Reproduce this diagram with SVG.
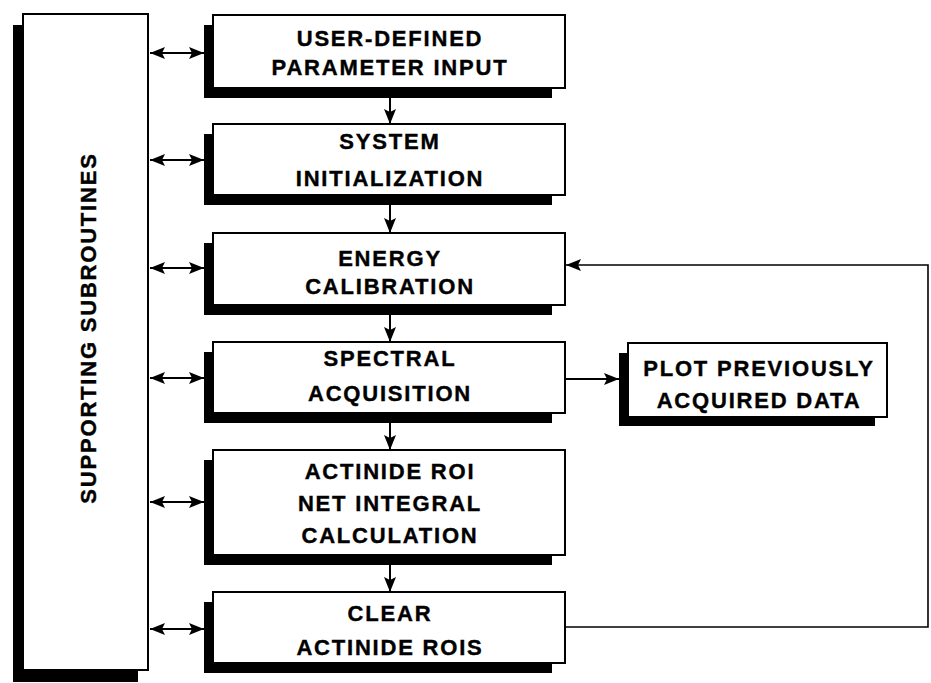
<svg xmlns="http://www.w3.org/2000/svg" width="931" height="683" viewBox="0 0 931 683">
<style>
.box{fill:#fff;stroke:#000;stroke-width:2}
.sh{fill:#000}
.t{font-family:"Liberation Sans",Arial,sans-serif;font-weight:bold;font-size:22px;letter-spacing:1.8px;text-anchor:middle;fill:#000;stroke:#000;stroke-width:0.4}
.ln{stroke:#000;stroke-width:2;fill:none}
.lp{stroke:#000;stroke-width:1.6;fill:none}
</style>
<defs>
<marker id="ah" viewBox="0 0 15 12" refX="15" refY="6" markerWidth="15" markerHeight="12" markerUnits="userSpaceOnUse" orient="auto-start-reverse">
<path d="M0,0 L15,6 L0,12 L3,6 Z" fill="#000"/>
</marker>
</defs>
<rect width="931" height="683" fill="#fff"/>
<g id="supporting">
<rect class="sh" x="13" y="25" width="125" height="657"/>
<rect class="box" x="23" y="14" width="125" height="656"/>
<text class="t" transform="translate(96,328) rotate(-90)" style="letter-spacing:1.8px">SUPPORTING SUBROUTINES</text>
</g>
<g id="n1">
<rect class="sh" x="204" y="25" width="348" height="73"/>
<rect class="box" x="213" y="15" width="352" height="73"/>
<text class="t" x="390" y="46">USER-DEFINED</text>
<text class="t" x="390" y="75">PARAMETER INPUT</text>
</g>
<g id="n2">
<rect class="sh" x="204" y="134" width="348" height="71"/>
<rect class="box" x="213" y="124" width="352" height="71"/>
<text class="t" x="390" y="149">SYSTEM</text>
<text class="t" x="390" y="186">INITIALIZATION</text>
</g>
<g id="n3">
<rect class="sh" x="204" y="243" width="348" height="72"/>
<rect class="box" x="213" y="233" width="352" height="72"/>
<text class="t" x="390" y="266">ENERGY</text>
<text class="t" x="390" y="294">CALIBRATION</text>
</g>
<g id="n4">
<rect class="sh" x="204" y="352" width="348" height="71"/>
<rect class="box" x="213" y="342" width="352" height="71"/>
<text class="t" x="390" y="366">SPECTRAL</text>
<text class="t" x="390" y="401">ACQUISITION</text>
</g>
<g id="n5">
<rect class="sh" x="204" y="460" width="348" height="105"/>
<rect class="box" x="213" y="450" width="352" height="105"/>
<text class="t" x="390" y="479">ACTINIDE ROI</text>
<text class="t" x="390" y="511">NET INTEGRAL</text>
<text class="t" x="390" y="543">CALCULATION</text>
</g>
<g id="n6">
<rect class="sh" x="204" y="602" width="348" height="71"/>
<rect class="box" x="213" y="592" width="352" height="71"/>
<text class="t" x="390" y="621">CLEAR</text>
<text class="t" x="390" y="655">ACTINIDE ROIS</text>
</g>
<g id="plot">
<rect class="sh" x="619" y="353" width="256" height="73"/>
<rect class="box" x="628" y="343" width="259" height="74"/>
<text class="t" x="759" y="376">PLOT PREVIOUSLY</text>
<text class="t" x="759" y="408">ACQUIRED DATA</text>
</g>
<g id="connectors">
<line class="ln" x1="150" y1="53" x2="204" y2="53" marker-start="url(#ah)" marker-end="url(#ah)"/>
<line class="ln" x1="150" y1="160" x2="204" y2="160" marker-start="url(#ah)" marker-end="url(#ah)"/>
<line class="ln" x1="150" y1="268" x2="204" y2="268" marker-start="url(#ah)" marker-end="url(#ah)"/>
<line class="ln" x1="150" y1="378" x2="204" y2="378" marker-start="url(#ah)" marker-end="url(#ah)"/>
<line class="ln" x1="150" y1="502" x2="204" y2="502" marker-start="url(#ah)" marker-end="url(#ah)"/>
<line class="ln" x1="150" y1="629" x2="204" y2="629" marker-start="url(#ah)" marker-end="url(#ah)"/>
<line class="ln" x1="390" y1="98" x2="390" y2="124" marker-end="url(#ah)"/>
<line class="ln" x1="390" y1="205" x2="390" y2="233" marker-end="url(#ah)"/>
<line class="ln" x1="390" y1="315" x2="390" y2="342" marker-end="url(#ah)"/>
<line class="ln" x1="390" y1="423" x2="390" y2="450" marker-end="url(#ah)"/>
<line class="ln" x1="390" y1="565" x2="390" y2="592" marker-end="url(#ah)"/>
<line class="ln" x1="566" y1="379" x2="619" y2="379" marker-end="url(#ah)"/>
<polyline class="lp" points="566,627 928,627 928,265 566,265" marker-end="url(#ah)"/>
</g>
</svg>
